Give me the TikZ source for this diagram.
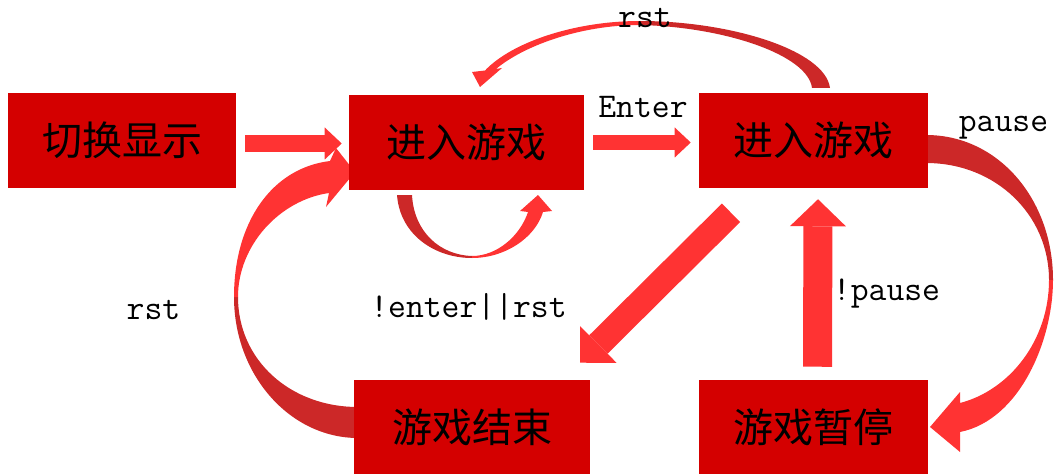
\documentclass[tikz,border=0pt]{standalone}
\usepackage{fontspec}
\newfontfamily\cjk{Noto Sans CJK SC}
\usetikzlibrary{arrows.meta,calc,backgrounds}
\definecolor{boxred}{HTML}{D40000}
\definecolor{arrbright}{HTML}{FF3333}
\definecolor{arrdark}{HTML}{CC2828}
\begin{document}
\begin{tikzpicture}[x=0.75pt,y=-0.75pt,
  box/.style={fill=boxred, draw=none, inner sep=0pt, text=black,
    font=\cjk\fontsize{30}{36}\selectfont, minimum height=71.25pt},
  lbl/.style={font=\ttfamily\fontsize{26}{30}\selectfont, inner sep=0pt, anchor=base},
  bright/.style={fill=arrbright, draw=none},
  dark/.style={fill=arrdark, draw=none}]
\useasboundingbox (0,0) rectangle (1059,474);

% boxes
\node[box, minimum width=171pt]    (A) at (122,140.5)   {切换显示};
\node[box, minimum width=176.25pt] (B) at (466.5,142.5) {进入游戏};
\node[box, minimum width=171.75pt] (C) at (813.5,140.5) {进入游戏};
\node[box, minimum width=177pt]    (D) at (472,427.5)   {游戏结束};
\node[box, minimum width=171.75pt] (E) at (813.5,427.5) {游戏暂停};

% labels
\node[lbl] (lEnter)  at (643,118)   {Enter};
\node[lbl] (lRstTop) at (645,28)    {rst};
\node[lbl] (lPause)  at (1003.5,132){pause};
\node[lbl] (lNPause) at (886.5,300) {!pause};
\node[lbl] (lNEnter) at (468.5,317) {!enter||rst};
\node[lbl] (lRstL)   at (153.5,319) {rst};

\begin{scope}[on background layer]
% straight block arrows
\draw[arrbright, line width=12.75pt, -{Triangle[width=24pt,length=12.75pt,line width=0pt]}]
  ($(A.east)+(9,3)$) -- ($(B.west)+(-7,1)$);
\draw[arrbright, line width=11.25pt, -{Triangle[width=22.5pt,length=12pt,line width=0pt]}]
  ($(B.east)+(9,0)$) -- ($(C.west)+(-8,2)$);
\draw[arrbright, line width=19.5pt, -{Triangle[width=38.7pt,length=19.4pt,line width=0pt]}]
  ($(C.south)+(-82.5,24.5)$) -- ($(D.north)+(108,-17)$);
\draw[arrbright, line width=21.75pt, -{Triangle[width=42pt,length=20.25pt,line width=0pt]}]
  ($(E.north)+(4,-13)$) -- ($(C.south)+(4.5,11)$);

% curved arrow: rst (D -> B), left
\fill[dark] (358,438) .. controls (290,438) and (234,375) .. (234,297)
  -- (238,297) .. controls (238,360) and (290,407) .. (358,407) -- cycle;
\fill[bright] (234,297) .. controls (234,222) and (272,168) .. (330,161)
  -- (336,148) -- (355,172) -- (326,207) -- (329,193)
  .. controls (280,200) and (238,245) .. (238,297) -- cycle;

% curved arrow: rst (C -> B), top
\fill[dark] (830,88) .. controls (825,50) and (730,21) .. (640,21)
  -- (640,25) .. controls (725,27) and (808,55) .. (812,88) -- cycle;
\fill[bright] (640,21) .. controls (575,21) and (512,42) .. (485,70.5)
  -- (472,72) -- (480,87) -- (502,68) -- (496,69)
  .. controls (522,47) and (578,25) .. (640,25) -- cycle;

% curved arrow: pause (C -> E), right
\fill[dark] (926,135) .. controls (999,135) and (1053,200) .. (1053,280)
  -- (1049,280) .. controls (1049,215) and (996,163) .. (926,163) -- cycle;
\fill[bright] (1053,280) .. controls (1053,340) and (1020,420) .. (960,432)
  -- (960,452) -- (930,427) -- (960,392) -- (960,403)
  .. controls (1010,390) and (1049,340) .. (1049,280) -- cycle;

% self loop on B
\fill[dark] (397,195) .. controls (400,235) and (435,258) .. (472,258)
  -- (472,256) .. controls (440,255) and (414,232) .. (412,195) -- cycle;
\fill[bright] (472,258) .. controls (505,258) and (535,238) .. (543,212)
  -- (552,211) -- (538,195) -- (520,211) -- (528,212)
  .. controls (520,236) and (497,256) .. (472,256) -- cycle;
\end{scope}
\end{tikzpicture}
\end{document}
